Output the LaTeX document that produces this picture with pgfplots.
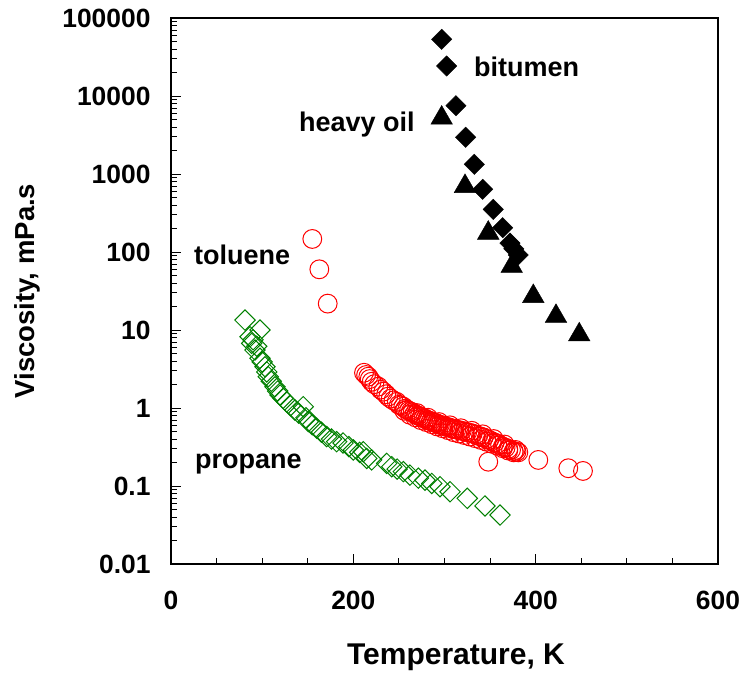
\documentclass[border=0pt]{standalone}
\usepackage{pgfplots}
\pgfplotsset{compat=1.18}
\usepackage{fontspec}
\setmainfont{Liberation Sans}
\definecolor{propgreen}{RGB}{0,128,0}
\begin{document}
\begin{tikzpicture}
\begin{axis}[
  scale only axis, width=547pt, height=546pt,
  xmin=0, xmax=600, ymode=log, ymin=0.01, ymax=100000,
  xtick={0,200,400,600}, minor x tick num=3,
  ytick={0.01,0.1,1,10,100,1000,10000,100000},
  yticklabels={0.01,0.1,1,10,100,1000,10000,100000},
  yminorticks=true,
  minor ytick={0.02,0.03,0.04,0.05,0.06,0.07,0.08,0.09,
               0.2,0.3,0.4,0.5,0.6,0.7,0.8,0.9,
               2,3,4,5,6,7,8,9,
               20,30,40,50,60,70,80,90,
               200,300,400,500,600,700,800,900,
               2000,3000,4000,5000,6000,7000,8000,9000,
               20000,30000,40000,50000,60000,70000,80000,90000},
  xtick pos=bottom, ytick pos=left, tick align=inside,
  major tick length=10pt, minor tick length=6pt,
  xtick style={line width=1pt, black},
  ytick style={line width=1pt, black},
  axis line style={line width=1.2pt},
  /pgf/number format/assume math mode=true,
  xticklabel style={font=\bfseries\fontsize{26.4}{30}\selectfont, yshift=-24pt},
  yticklabel style={font=\bfseries\fontsize{26.4}{30}\selectfont, xshift=-17pt},
  xlabel={Temperature, K}, ylabel={Viscosity, mPa.s},
  xlabel style={font=\bfseries\fontsize{30}{34}\selectfont, at={(axis description cs:0.521,-0.1703)}, anchor=center},
  ylabel style={font=\bfseries\fontsize{27.5}{32}\selectfont, at={(axis description cs:-0.2633,0.5)}, anchor=center, rotate=0},
  clip=false,
]
% propane
\addplot[only marks, mark=square, mark size=7.2pt, mark options={rotate=45, draw=propgreen, line width=1pt}] coordinates {
(81.2,13.4) (86.7,8.2) (97.6,10.0) (88.5,6.75) (90,7.5) (92.1,5.54) (94,6.2)
(97.6,4.34) (100,3.9) (103.1,3.38) (105,2.9) (106.7,2.52) (110,2.2) (114.1,1.87)
(117,1.65) (119.6,1.47) (123,1.33) (126.9,1.20) (131,1.07) (136,0.94) (140,0.86)
(145.1,1.04) (148,0.75) (150.6,0.67) (155,0.61) (159.8,0.55) (165,0.49) (170.8,0.43)
(176,0.40) (181.7,0.37) (188.7,0.356) (195,0.32) (200,0.29) (207,0.27) (210.9,0.275)
(214.7,0.226) (220.1,0.216) (236.6,0.195) (242.1,0.177) (248,0.165) (254.8,0.153)
(262.1,0.138) (271.3,0.126) (278.6,0.119) (286,0.108) (295.1,0.098) (306.1,0.0845)
(325,0.0695) (344.4,0.0555) (360.9,0.0425)
};
% toluene
\addplot[only marks, mark=o, mark size=9.4pt, mark options={draw=red, line width=1pt}] coordinates {
(155,147) (162.7,60) (171.9,21.8)
(211.7,2.83) (214,2.65) (216.4,2.52) (218,2.35) (220.1,2.17) (223,2.02) (227.4,1.88)
(230,1.72) (232.9,1.62) (236,1.50) (238.3,1.40) (241,1.32) (244,1.25) (247.6,1.20)
(250,1.10) (252,1.08) (254.8,1.04) (257,0.98) (259,0.95) (261,0.92) (263,0.90)
(265,0.88) (267,0.84) (269,0.82) (271,0.80) (273,0.78) (275,0.76) (277,0.74)
(279,0.73) (281,0.70) (283,0.69) (285,0.68) (287,0.66) (289,0.65) (291,0.64)
(293,0.62) (295,0.61) (297,0.60) (299,0.59) (301,0.58) (303,0.57) (305,0.565)
(307,0.55) (309,0.545) (311,0.54) (313,0.53) (316,0.52) (319,0.51) (322,0.50)
(325,0.49) (328,0.48) (331,0.47) (334,0.455) (337,0.44) (340,0.43) (343,0.42)
(346,0.40) (349,0.39) (352,0.375) (355,0.36) (358,0.35) (361,0.335) (364,0.32)
(367,0.31) (370,0.30) (373,0.29) (376,0.28) (379,0.275) (381,0.27)
(256,0.92) (262,0.82) (268,0.76) (274,0.70) (280,0.66) (286,0.62) (292,0.58)
(298,0.55) (304,0.52) (310,0.49) (316,0.47) (322,0.45) (328,0.43) (334,0.41)
(340,0.39) (346,0.37) (352,0.35) (358,0.33) (364,0.305) (370,0.285) (376,0.27)
(270,0.86) (282,0.75) (294,0.66) (306,0.60) (318,0.55) (330,0.51) (342,0.46)
(354,0.40) (366,0.34) (378,0.29)
(348,0.205) (402.9,0.216) (435.8,0.169) (451.9,0.156)
};
% heavy oil
\addplot[only marks, mark=triangle*, mark size=12.5pt, mark options={fill=black, draw=black}] coordinates {
(296.9,5224) (322.5,695) (348,175) (373.7,65.6) (397.4,27) (422.3,15) (447.8,8.7)
};
% bitumen
\addplot[only marks, mark=square*, mark size=7.2pt, mark options={rotate=45, fill=black, draw=black}] coordinates {
(296.9,53300) (302.4,24260) (312.6,7510) (323.2,2955) (332.7,1331) (341.9,637)
(353.5,352) (363.8,205) (371.8,130) (376,110) (380.9,91.5)
};
\node[anchor=west, inner sep=0pt, font=\bfseries\fontsize{27}{30}\selectfont] at (axis cs:332.3,23550) {bitumen};
\node[anchor=east, inner sep=0pt, font=\bfseries\fontsize{27}{30}\selectfont] at (axis cs:267.6,4250) {heavy oil};
\node[anchor=west, inner sep=0pt, font=\bfseries\fontsize{27}{30}\selectfont] at (axis cs:25.2,91.5) {toluene};
\node[anchor=west, inner sep=0pt, font=\bfseries\fontsize{27}{30}\selectfont] at (axis cs:26.3,0.19) {propane};
\end{axis}
\pgfresetboundingbox
\path ([shift={(-171pt,-109pt)}]current axis.south west) rectangle ([shift={(26pt,18pt)}]current axis.north east);
\end{tikzpicture}
\end{document}
